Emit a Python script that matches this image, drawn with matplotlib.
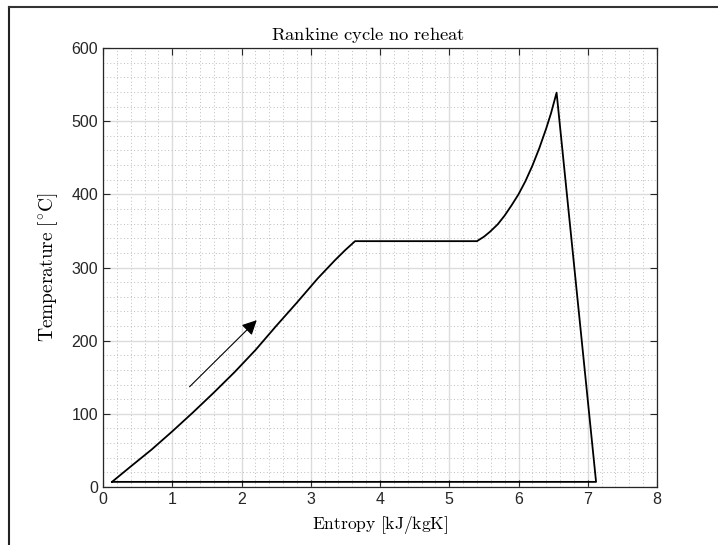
#imports
import matplotlib
matplotlib.use("Agg")
import matplotlib.pyplot as plt
from matplotlib.lines import Line2D
from matplotlib.ticker import MultipleLocator

#data
s_liquid = [0.13, 0.40, 0.70, 1.00, 1.30, 1.60, 1.90, 2.20, 2.50, 2.80, 3.10, 3.35, 3.50, 3.64]
T_liquid = [7, 28, 51, 76, 102, 129, 157, 187, 220, 252, 285, 310, 324, 336]
s_boil = [3.64, 5.40]
T_boil = [336, 336]
s_super = [5.40, 5.50, 5.59, 5.70, 5.80, 5.90, 6.00, 6.10, 6.20, 6.30, 6.40, 6.47, 6.55]
T_super = [336, 342, 349, 359, 371, 385, 400, 418, 439, 463, 490, 511, 539]
s_turbine = [6.55, 7.12]
T_turbine = [539, 7]
s_cond = [7.12, 0.13]
T_cond = [7, 7]
arrow_tail = (1.25, 137)
arrow_head = (2.22, 228)

plt.rcParams["mathtext.fontset"] = "cm"
plt.rcParams["font.family"] = ["Liberation Sans", "DejaVu Sans"]

fig = plt.figure(figsize=(7.18, 5.45), dpi=100)
ax = fig.add_axes([103/718, 1-487/545, (657-103)/718, (487-48)/545])

s_all = s_liquid + s_boil[1:] + s_super[1:] + s_turbine[1:] + s_cond[1:]
T_all = T_liquid + T_boil[1:] + T_super[1:] + T_turbine[1:] + T_cond[1:]
ax.plot(s_all, T_all, color="black", lw=1.3)

ax.annotate("", xy=arrow_head, xytext=arrow_tail,
            arrowprops=dict(arrowstyle="-|>", color="black", lw=0.8,
                            mutation_scale=22, shrinkA=0, shrinkB=0))

ax.set_xlim(0, 8)
ax.set_ylim(0, 600)
ax.xaxis.set_major_locator(MultipleLocator(1))
ax.xaxis.set_minor_locator(MultipleLocator(0.2))
ax.yaxis.set_major_locator(MultipleLocator(100))
ax.yaxis.set_minor_locator(MultipleLocator(20))
ax.grid(which="major", color="#dcdcdc", lw=1.0, ls="-")
ax.grid(which="minor", color="#bdbdbd", lw=0.7, ls=(0, (1, 2.5)))
ax.set_axisbelow(True)
ax.tick_params(which="both", direction="in", top=True, right=True,
               labelsize=11.5, colors="#262626", width=0.8)
ax.tick_params(which="major", length=5)
ax.tick_params(which="minor", length=0)
for sp in ax.spines.values():
    sp.set_color("#262626")
    sp.set_linewidth(0.9)

ax.set_title(r"$\mathrm{Rankine\ cycle\ no\ reheat}$", fontsize=13.4, pad=6, x=0.478)
ax.set_xlabel(r"$\mathrm{Entropy\ [kJ/kgK]}$", fontsize=12.6, labelpad=5)
ax.set_ylabel(r"$\mathrm{Temperature\ [^{\circ}C]}$", fontsize=14, labelpad=8)

#figure border seen in the screenshot
fig.add_artist(Line2D([9/718, 9/718], [0, 1-7/545], color="#222222", lw=1.5))
fig.add_artist(Line2D([9/718, 1], [1-7/545, 1-7/545], color="#333333", lw=1.5))

fig.savefig("out.png", dpi=100)
